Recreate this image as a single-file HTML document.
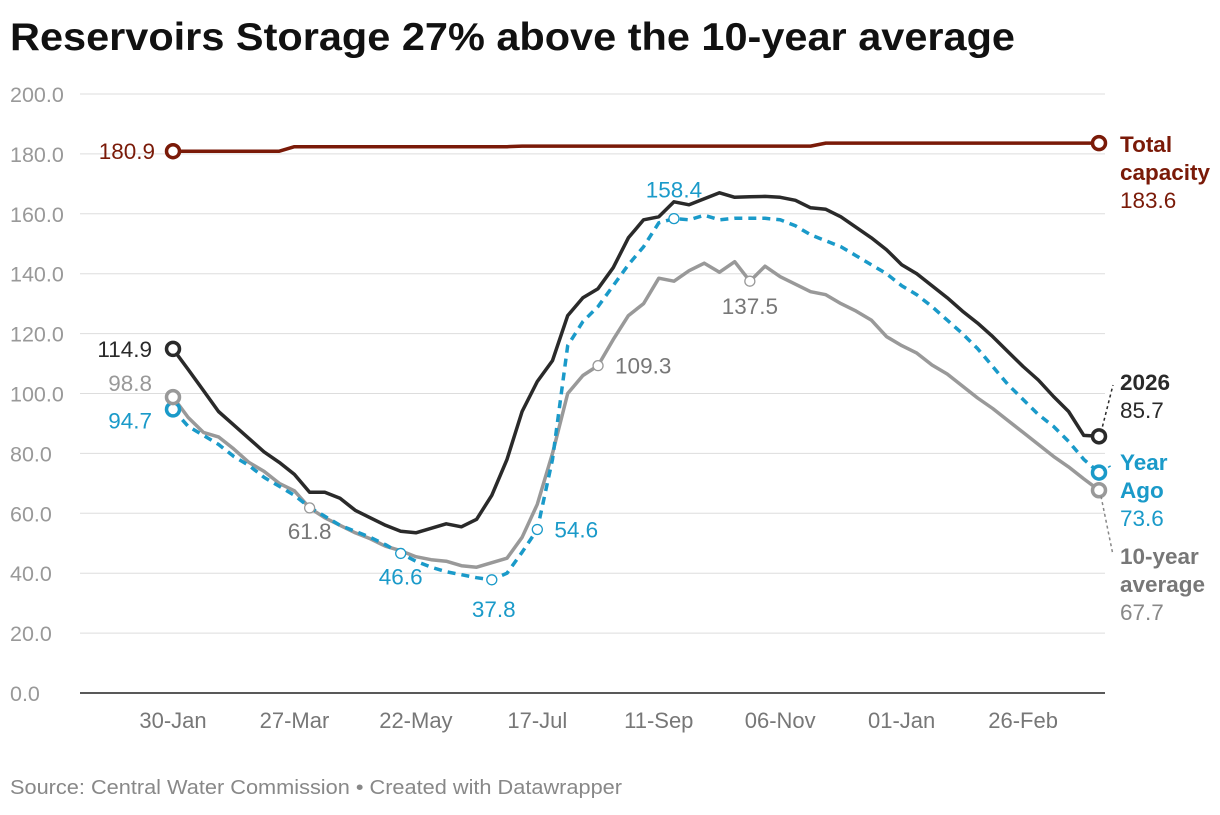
<!DOCTYPE html>
<html><head><meta charset="utf-8"><style>
body{margin:0;background:#fff;width:1220px;height:810px;overflow:hidden;font-family:"Liberation Sans",sans-serif}
</style></head><body>
<svg id="c" width="1220" height="810" style="font-family:'Liberation Sans',sans-serif">
<text x="10" y="50" font-size="39" font-weight="bold" fill="#111" textLength="1005" lengthAdjust="spacingAndGlyphs">Reservoirs Storage 27% above the 10-year average</text>
<text x="10" y="794" font-size="20" fill="#888" textLength="612" lengthAdjust="spacingAndGlyphs">Source: Central Water Commission • Created with Datawrapper</text>
<g id="grid"></g><g id="lines"></g><g id="labels"></g>
</svg>
<script>
const yTicks=[0,20,40,60,80,100,120,140,160,180,200];
const xTickLabels=["30-Jan","27-Mar","22-May","17-Jul","11-Sep","06-Nov","01-Jan","26-Feb"];
const xTickIdx=[0,8,16,24,32,40,48,56];
const s2026=[114.9,108,101,94,89.5,85,80.5,77,73,67,67,65,61,58.5,56,54,53.5,55,56.5,55.5,58,66,78,94,104,111,126,132,135,142,152,158,159,164,163,165,167,165.5,165.7,165.8,165.5,164.5,162,161.5,159,155.5,152,148,143,140,136,132,127.5,123.5,119,114,109,104.5,99,94,86,85.7];
const sYearAgo=[94.7,89,86,83,79,76,72,69,66,62,59,56,54,52,49.5,46.6,44,42,40.5,39.5,38.5,37.8,40,47,54.6,78,116,124,129,136,143,149,157,158.4,158,159.5,158,158.5,158.5,158.5,158,156,153,151,149,146,143,140,136,133,129,124.5,120,115,109,103,98,93,89,84,78,73.6];
const sAvg=[98.8,92,87,85.5,81.5,77,74,70,67.5,61.8,58.5,56,53.5,51.5,49,47.5,45.5,44.5,44,42.5,42,43.5,45,52,63,80,100,106,109.3,118,126,130,138.5,137.5,141,143.5,140.5,144,137.5,142.5,139,136.5,134,133,130,127.5,124.5,119,116,113.5,109.5,106.5,102.5,98.5,95,91,87,83,79,75.5,71.5,67.7];
const sCap=[180.9,180.9,180.9,180.9,180.9,180.9,180.9,180.9,182.4,182.4,182.4,182.4,182.4,182.4,182.4,182.4,182.4,182.4,182.4,182.4,182.4,182.4,182.4,182.6,182.6,182.6,182.6,182.6,182.6,182.6,182.6,182.6,182.6,182.6,182.6,182.6,182.6,182.6,182.6,182.6,182.6,182.6,182.6,183.6,183.6,183.6,183.6,183.6,183.6,183.6,183.6,183.6,183.6,183.6,183.6,183.6,183.6,183.6,183.6,183.6,183.6,183.6];
const NS="http://www.w3.org/2000/svg";
const n=s2026.length;
const X=i=>173+i*(1099-173)/(n-1);
const Y=v=>693-v*(693-94)/200;
function mk(tag,attrs,parent,txt){const e=document.createElementNS(NS,tag);for(const k in attrs)e.setAttribute(k,attrs[k]);if(txt!==undefined)e.textContent=txt;document.getElementById(parent).appendChild(e);return e;}
yTicks.forEach(v=>{
  const l=mk('line',{x1:80,x2:1105,y1:Y(v),y2:Y(v),stroke:v===0?'#222':'#ddd','stroke-width':v===0?1.5:1},'grid');
  
  
  const t=mk('text',{x:10,y:Y(v)+8,'font-size':21.5,fill:'#999'},'grid',v.toFixed(1));
  
  
});
xTickIdx.forEach((ix,k)=>{
  const t=mk('text',{x:X(ix),y:728,'font-size':22,fill:'#777','text-anchor':'middle'},'grid',xTickLabels[k]);
  
  
});
function path(arr){return arr.map((v,i)=>(i?'L':'M')+X(i).toFixed(1)+','+Y(v).toFixed(1)).join('');}
function line(arr,color,name,dash){
  const p=mk('path',{d:path(arr),fill:'none',stroke:color,'stroke-width':3.5,'stroke-linejoin':'round','stroke-dasharray':dash||''},'lines');
  
  
}
line(sAvg,'#999','line-10-year-average');
line(sYearAgo,'#1a9ac9','line-year-ago','8 6');
line(s2026,'#2a2a2a','line-2026');
line(sCap,'#7a1a08','line-total-capacity');
function dot(i,v,color,name,big){
  const c=mk('circle',{cx:X(i),cy:Y(v),r:big?6.5:5,fill:'#fff',stroke:color,'stroke-width':big?3.5:1.3},'lines');
  
  
}
function lab(x,y,txt,color,anchor,bold,name){
  const t=mk('text',{x:x,y:y,'font-size':22.5,fill:color,'text-anchor':anchor||'start','font-weight':bold?'bold':'normal'},'labels',txt);
  
  
}
const L=n-1;
[[sCap,'#7a1a08'],[s2026,'#2a2a2a'],[sYearAgo,'#1a9ac9'],[sAvg,'#999']].forEach(([a,c])=>{dot(0,a[0],c,'start-marker',true);dot(L,a[L],c,'end-marker',true);});
dot(9,sAvg[9],'#999','marker-avg-mar');dot(28,sAvg[28],'#999','marker-avg-aug');dot(38,sAvg[38],'#999','marker-avg-oct');
dot(15,sYearAgo[15],'#1a9ac9','marker-ya-may');dot(21,sYearAgo[21],'#1a9ac9','marker-ya-jun');dot(24,sYearAgo[24],'#1a9ac9','marker-ya-jul');dot(33,sYearAgo[33],'#1a9ac9','marker-ya-sep');
lab(155,Y(sCap[0])+8,sCap[0].toFixed(1),'#7a1a08','end',false,'capacity-start-label');
lab(152,Y(s2026[0])+8,s2026[0].toFixed(1),'#2a2a2a','end',false,'2026-start-label');
lab(152,Y(sAvg[0])-6,sAvg[0].toFixed(1),'#999','end',false,'avg-start-label');
lab(152,Y(sYearAgo[0])+19,sYearAgo[0].toFixed(1),'#1a9ac9','end',false,'ya-start-label');
lab(X(9),Y(sAvg[9])+31,sAvg[9].toFixed(1),'#777','middle',false,'avg-mar-label');
lab(X(15),Y(sYearAgo[15])+31,sYearAgo[15].toFixed(1),'#1a9ac9','middle',false,'ya-may-label');
lab(X(21)+2,Y(sYearAgo[21])+37,sYearAgo[21].toFixed(1),'#1a9ac9','middle',false,'ya-jun-label');
lab(X(24)+17,Y(sYearAgo[24])+8,sYearAgo[24].toFixed(1),'#1a9ac9','start',false,'ya-jul-label');
lab(X(28)+17,Y(sAvg[28])+8,sAvg[28].toFixed(1),'#777','start',false,'avg-aug-label');
lab(X(33),Y(sYearAgo[33])-21,sYearAgo[33].toFixed(1),'#1a9ac9','middle',false,'ya-sep-label');
lab(X(38),Y(sAvg[38])+33,sAvg[38].toFixed(1),'#777','middle',false,'avg-oct-label');
lab(1120,152,'Total','#7a1a08','start',true,'capacity-legend');
lab(1120,180,'capacity','#7a1a08','start',true,'capacity-legend-2');
lab(1120,208,sCap[L].toFixed(1),'#7a1a08','start',false,'capacity-end-label');
lab(1120,390,'2026','#2a2a2a','start',true,'2026-legend');
lab(1120,418,s2026[L].toFixed(1),'#2a2a2a','start',false,'2026-end-label');
lab(1120,470,'Year','#1a9ac9','start',true,'ya-legend');
lab(1120,498,'Ago','#1a9ac9','start',true,'ya-legend-2');
lab(1120,526,sYearAgo[L].toFixed(1),'#1a9ac9','start',false,'ya-end-label');
lab(1120,564,'10-year','#777','start',true,'avg-legend');
lab(1120,592,'average','#777','start',true,'avg-legend-2');
lab(1120,620,sAvg[L].toFixed(1),'#888','start',false,'avg-end-label');
[[1101,Y(s2026[L])-4,1113,385,'#2a2a2a','2026-connector'],[1103,Y(sYearAgo[L])-2,1112,465,'#1a9ac9','ya-connector'],[1101,Y(sAvg[L])+6,1113,555,'#888','avg-connector']].forEach(a=>{
  const l=mk('line',{x1:a[0],y1:a[1],x2:a[2],y2:a[3],stroke:a[4],'stroke-width':1.5,'stroke-dasharray':'3 3'},'labels');
  
  
});
</script>
</body></html>
